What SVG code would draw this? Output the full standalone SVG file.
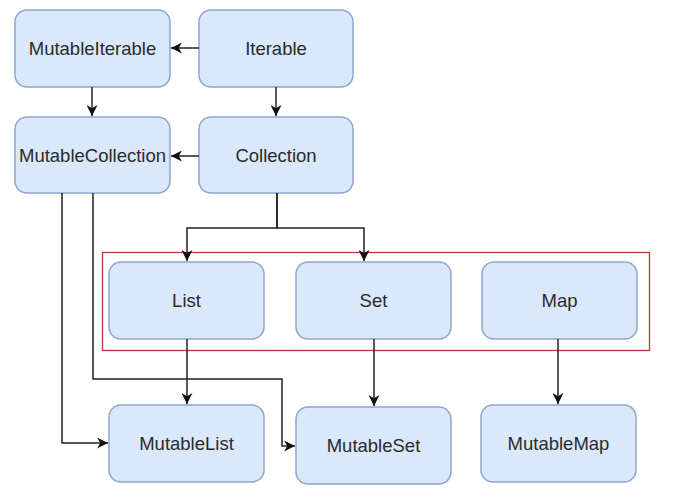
<svg xmlns="http://www.w3.org/2000/svg" width="681" height="499" viewBox="0 0 681 499">
<defs>
<marker id="arr" viewBox="0 0 10 10" refX="10" refY="5" markerWidth="11" markerHeight="11" markerUnits="userSpaceOnUse" orient="auto">
<path d="M0,0 L10,5 L0,10 L3,5 z" fill="#111"/>
</marker>
<style>
.n rect{fill:#dae8fc;stroke:#8ea6cc;stroke-width:1.5}
.n text{font-family:"Liberation Sans",Arial,sans-serif;font-size:18.5px;fill:#2b2b2b;text-anchor:middle;dominant-baseline:central}
.c path{fill:none;stroke:#222;stroke-width:1.5;marker-end:url(#arr)}
</style>
</defs>
<rect width="681" height="499" fill="#fff"/>
<rect id="group" x="102.5" y="252.5" width="547" height="98" fill="none" stroke="#b83a3a" stroke-width="1.3"/>
<g id="MutableIterable" class="n"><rect x="15" y="10" width="155" height="77" rx="12"/><text x="92.5" y="48.5">MutableIterable</text></g>
<g id="Iterable" class="n"><rect x="199" y="10" width="154" height="77" rx="12"/><text x="276" y="48.5">Iterable</text></g>
<g id="MutableCollection" class="n"><rect x="15" y="117" width="155" height="76" rx="12"/><text x="92.5" y="155.5">MutableCollection</text></g>
<g id="Collection" class="n"><rect x="199" y="117" width="154" height="76" rx="12"/><text x="276" y="155.5">Collection</text></g>
<g id="List" class="n"><rect x="109" y="262" width="155" height="77" rx="12"/><text x="186.5" y="300.5">List</text></g>
<g id="Set" class="n"><rect x="296" y="262" width="155" height="77" rx="12"/><text x="373.5" y="300.5">Set</text></g>
<g id="Map" class="n"><rect x="482" y="262" width="155" height="77" rx="12"/><text x="559.5" y="300.5">Map</text></g>
<g id="MutableList" class="n"><rect x="109" y="405" width="155" height="77" rx="12"/><text x="186.5" y="443.5">MutableList</text></g>
<g id="MutableSet" class="n"><rect x="296" y="407" width="155" height="77" rx="12"/><text x="373.5" y="445.5">MutableSet</text></g>
<g id="MutableMap" class="n"><rect x="481" y="405" width="155" height="77" rx="12"/><text x="558.5" y="443.5">MutableMap</text></g>
<g id="connectors" class="c">
<path d="M199,48 H171"/>
<path d="M92,87 V116"/>
<path d="M276,87 V116"/>
<path d="M199,156 H171"/>
<path d="M277,193 V228 H187 V261"/>
<path d="M277,193 V228 H364 V261"/>
<path d="M187,339 V404"/>
<path d="M374,339 V406"/>
<path d="M558,339 V404"/>
<path d="M62,193 V443 H108"/>
<path d="M93,193 V379 H282 V446 H295"/>
</g>
</svg>
